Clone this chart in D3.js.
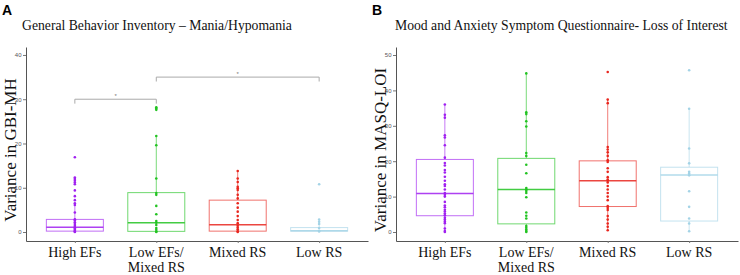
<!DOCTYPE html>
<html>
<head>
<meta charset="utf-8">
<script src="https://cdn.jsdelivr.net/npm/d3@7"></script>
<style>
  body { margin: 0; background: #fff; }
  svg { display: block; }
</style>
</head>
<body>
<div id="draw"></div>
<script>
var groups = ["High EFs", "Low EFs/\nMixed RS", "Mixed RS", "Low RS"];
var colors = ["#a020f0", "#22c322", "#e8261e", "#a3d3e6"];

// panel A - GBI-MH, box stats: [q1, median, q3, whiskerLow, whiskerHigh]
var gbiBoxes = [
	[0.2, 1.1, 2.85, 0, 6.5],
	[0.15, 2.1, 8.9, 0, 21.7],
	[0.2, 1.65, 7.2, 0, 13.8],
	[0.2, 0.3, 1.0, 0, 1.9]
];
var gbiPoints = [
	[16.9, 12.3, 12.0, 11.6, 11.2, 10.8, 9.4, 8.1, 7.2, 6.5, 6.1, 4.4, 2.9, 2.6, 2.2, 1.8, 1.4, 1.1, 0.8, 0.5, 0.3, 0.1, 0],
	[28.2, 27.9, 27.6, 21.7, 19.6, 12.1, 8.8, 8.4, 5.9, 4.0, 2.5, 2.1, 1.6, 0.9, 0.5, 0.1, 0],
	[13.8, 12.1, 11.3, 10.2, 9.9, 9.5, 8.4, 7.6, 6.5, 5.5, 4.6, 3.6, 2.7, 2.0, 1.4, 1.0, 0.6, 0.2, 0],
	[10.8, 2.8, 2.3, 1.8, 0.9, 0.3, 0.1]
];
var gbiTicks = [0, 10, 20, 30, 40];
var gbiSig = [
	{from: 0, to: 1, y: 30, label: "*"},
	{from: 1, to: 3, y: 35, label: "*"}
];

// panel B - MASQ-LOI
var masqBoxes = [
	[4.6, 10.9, 20.5, 0, 36.0],
	[2.3, 12.0, 20.8, 0, 44.8],
	[7.2, 14.5, 20.1, 0.3, 37.6],
	[3.1, 16.1, 18.3, 0.1, 34.8]
];
var masqPoints = [
	[36.0, 33.1, 32.3, 27.3, 26.7, 24.5, 21.0, 19.5, 18.8, 17.5, 16.8, 15.6, 14.5, 13.5, 13.0, 12.0, 11.0, 10.5, 10.0, 8.5, 7.5, 7.0, 6.3, 5.8, 5.2, 4.7, 4.0, 3.5, 3.0, 2.5, 1.0, 0.3, 0],
	[44.8, 33.8, 33.3, 31.3, 29.8, 22.3, 21.5, 19.0, 16.6, 12.4, 12.0, 11.6, 11.0, 9.8, 5.5, 4.6, 3.8, 1.7, 1.2, 0.7, 0.3, 0],
	[45.2, 37.4, 36.4, 24.0, 23.3, 22.5, 21.5, 20.3, 19.8, 18.0, 17.0, 15.5, 14.8, 14.5, 14.0, 13.0, 12.0, 11.0, 10.0, 9.0, 7.3, 6.8, 6.2, 4.5, 3.5, 2.4, 1.5, 0.5],
	[45.7, 34.8, 23.6, 19.4, 17.0, 16.5, 16.0, 11.5, 7.1, 3.8, 2.4, 0.2]
];
var masqTicks = [0, 10, 20, 30, 40, 50];

var width = 740, height = 275;
var svg = d3.select("#draw").append("svg")
	.attr("width", width)
	.attr("height", height);

drawPanel({
	letter: "A", left: 0, axisX: 26, right: 368,
	title: "General Behavior Inventory \u2013 Mania/Hypomania", titleX: 22,
	ylabel: "Variance in GBI-MH",
	yDomain: [-2.03, 41.8], ticks: gbiTicks,
	boxes: gbiBoxes, points: gbiPoints, sig: gbiSig
});
drawPanel({
	letter: "B", left: 370, axisX: 396, right: 738,
	title: "Mood and Anxiety Symptom Questionnaire- Loss of Interest", titleX: 395,
	ylabel: "Variance in MASQ-LOI",
	yDomain: [-2.54, 52.26], ticks: masqTicks,
	boxes: masqBoxes, points: masqPoints, sig: []
});

function drawPanel(p) {
	var g = svg.append("g");
	var top = 47, bottom = 241;

	var x = d3.scalePoint()
		.domain(groups)
		.range([p.axisX, p.right])
		.padding(0.6);
	var y = d3.scaleLinear()
		.domain(p.yDomain)
		.range([bottom, top]);
	var bw = x.step() * 0.7;

	// panel letter + title
	g.append("text")
		.attr("x", p.left + 2).attr("y", 15)
		.style("font-family", "Liberation Sans, Arial, sans-serif")
		.style("font-weight", "bold")
		.style("font-size", "14px")
		.text(p.letter);
	g.append("text")
		.attr("x", p.titleX).attr("y", 30)
		.style("font-family", "Liberation Serif, Times New Roman, serif")
		.style("font-size", "13.7px")
		.attr("fill", "#111")
		.text(p.title);

	// y axis
	var yAxis = g.append("g")
		.attr("transform", "translate(" + p.axisX + ",0)")
		.call(d3.axisLeft(y).tickValues(p.ticks).tickSize(3).tickSizeOuter(0).tickPadding(1.5));
	yAxis.select(".domain").attr("stroke", "#555").attr("stroke-width", 1);
	yAxis.selectAll(".tick line").attr("stroke", "#777");
	yAxis.selectAll(".tick text")
		.attr("fill", "#555")
		.style("font-family", "Liberation Sans, Arial, sans-serif")
		.style("font-size", "6px");

	// x axis
	var xAxis = g.append("g")
		.attr("transform", "translate(0," + bottom + ")")
		.call(d3.axisBottom(x).tickSize(2).tickSizeOuter(0).tickFormat(""));
	xAxis.select(".domain").attr("stroke", "#555").attr("stroke-width", 1);
	xAxis.selectAll(".tick line").attr("stroke", "#777");

	// x labels (two lines where needed)
	groups.forEach(function(name, i) {
		var lines = name.split("\n");
		var t = g.append("text")
			.attr("x", x(name))
			.attr("y", 257)
			.attr("text-anchor", "middle")
			.attr("fill", "#111")
			.style("font-family", "Liberation Serif, Times New Roman, serif")
			.style("font-size", "14px");
		lines.forEach(function(l, j) {
			t.append("tspan")
				.attr("x", x(name))
				.attr("dy", j == 0 ? 0 : 15)
				.text(l);
		});
	});

	// y label
	g.append("text")
		.attr("transform", "translate(" + (p.left + 16) + "," + 150 + ") rotate(-90)")
		.attr("text-anchor", "middle")
		.attr("fill", "#111")
		.style("font-family", "Liberation Serif, Times New Roman, serif")
		.style("font-size", "17px")
		.text(p.ylabel);

	// boxes
	p.boxes.forEach(function(b, i) {
		var cx = x(groups[i]);
		var c = colors[i];
		var bg = g.append("g").attr("stroke", c).attr("fill", "none");
		bg.append("line")
			.attr("x1", cx).attr("x2", cx)
			.attr("y1", y(b[2])).attr("y2", y(b[4]))
			.attr("stroke-opacity", 0.6)
			.attr("stroke-width", 1);
		bg.append("line")
			.attr("x1", cx).attr("x2", cx)
			.attr("y1", y(b[0])).attr("y2", y(b[3]))
			.attr("stroke-opacity", 0.6)
			.attr("stroke-width", 1);
		bg.append("rect")
			.attr("x", cx - bw / 2).attr("width", bw)
			.attr("y", y(b[2])).attr("height", y(b[0]) - y(b[2]))
			.attr("fill", "#fff")
			.attr("stroke-opacity", 0.65)
			.attr("stroke-width", 1);
		bg.append("line")
			.attr("x1", cx - bw / 2).attr("x2", cx + bw / 2)
			.attr("y1", y(b[1])).attr("y2", y(b[1]))
			.attr("stroke-opacity", 0.85)
			.attr("stroke-width", 1.5);
	});

	// points
	p.points.forEach(function(pts, i) {
		g.append("g").selectAll("circle")
			.data(pts)
			.enter()
			.append("circle")
			.attr("cx", x(groups[i]))
			.attr("cy", function(d){ return y(d); })
			.attr("r", 1.3)
			.attr("fill", colors[i]);
	});

	// significance brackets
	p.sig.forEach(function(s) {
		var x1 = x(groups[s.from]), x2 = x(groups[s.to]);
		var yy = y(s.y), drop = y(s.y - 1) - yy;
		g.append("path")
			.attr("d", "M" + x1 + "," + (yy + drop) + "V" + yy + "H" + x2 + "V" + (yy + drop))
			.attr("fill", "none")
			.attr("stroke", "#aaa")
			.attr("stroke-width", 1);
		g.append("text")
			.attr("x", (x1 + x2) / 2)
			.attr("y", yy - 1)
			.attr("text-anchor", "middle")
			.attr("fill", "#777")
			.style("font-family", "Liberation Sans, Arial, sans-serif")
			.style("font-size", "6px")
			.text(s.label);
	});
}
</script>
</body>
</html>
